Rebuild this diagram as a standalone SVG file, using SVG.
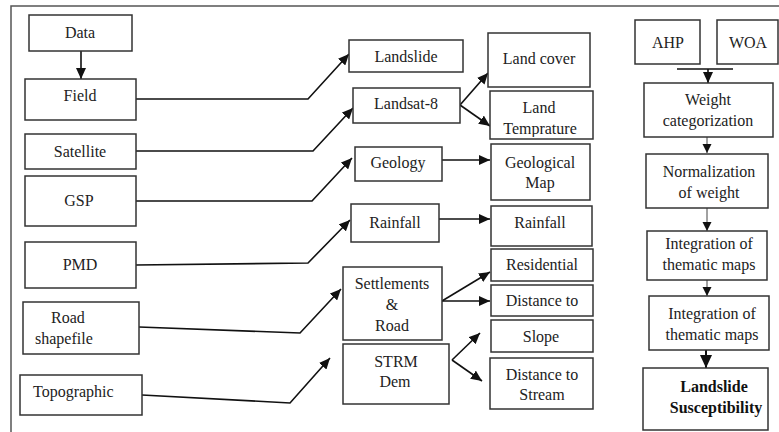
<svg xmlns="http://www.w3.org/2000/svg" width="779" height="432" viewBox="0 0 779 432" font-family="Liberation Serif, serif" font-size="16">
<style>
.box{fill:#fff;stroke:#333;stroke-width:1.5}
.t{text-anchor:middle;fill:#222}
.tl{fill:#222}
.tb{font-weight:bold;fill:#111;text-anchor:middle}
.c{fill:none;stroke:#111;stroke-width:1.6}
.ca{fill:none;stroke:#111;stroke-width:1.6;marker-end:url(#ah)}
.cs{fill:none;stroke:#444;stroke-width:1;marker-end:url(#ahs)}
</style>
<defs>
<marker id="ah" markerUnits="userSpaceOnUse" markerWidth="12" markerHeight="10" refX="11" refY="5" orient="auto">
<path d="M0,0 L11,5 L0,10 Z" fill="#111"/>
</marker>
<marker id="ahs" markerUnits="userSpaceOnUse" markerWidth="10" markerHeight="10" refX="9" refY="5" orient="auto">
<path d="M0,0.5 L9,5 L0,9.5 Z" fill="#111"/>
</marker>
<marker id="ahb" markerUnits="userSpaceOnUse" markerWidth="14" markerHeight="12" refX="13" refY="6" orient="auto">
<path d="M0,0 L13,6 L0,12 Z" fill="#111"/>
</marker>
<clipPath id="clipTemp"><rect x="490" y="91" width="104" height="46"/></clipPath>
</defs>
<rect width="779" height="432" fill="#fff"/>
<g id="frame"><path d="M11,432 V6 H779" fill="none" stroke="#555" stroke-width="1.5"/></g>

<g id="connectors">
<path class="ca" d="M81,51 V79"/>
<path class="ca" d="M136,99 H308 L349,54"/>
<path class="ca" d="M136,151 H313 L353,108"/>
<path class="ca" d="M136,201 H312 L352,158"/>
<path class="ca" d="M136,265 L308,263 L350,220"/>
<path class="ca" d="M139,327 L300,333 L341,289"/>
<path class="ca" d="M142,395 L290,403 L330,358"/>
<path class="ca" d="M460,105 L488,73"/>
<path class="ca" d="M460,105 L490,126"/>
<path class="ca" d="M442,160 H490"/>
<path class="ca" d="M439,219 H490"/>
<path class="ca" d="M442,301 L490,272"/>
<path class="ca" d="M442,301 H490"/>
<path class="ca" d="M452,360 L480,333"/>
<path class="ca" d="M452,360 L482,381"/>
<path class="c" d="M677,69 H733" stroke-width="2"/>
<path class="ca" d="M708,69 V83"/>
<path class="cs" d="M707,137 V153"/>
<path class="cs" d="M707,208 V231"/>
<path class="cs" d="M707,280 V296"/>
<path d="M706,350 V368" fill="none" stroke="#111" stroke-width="2" marker-end="url(#ahb)"/>
</g>

<g id="data"><rect class="box" x="29" y="15" width="103" height="36"/><text class="t" x="80" y="38">Data</text></g>
<g id="field"><rect class="box" x="25" y="79" width="111" height="41"/><text class="t" x="80" y="101">Field</text></g>
<g id="satellite"><rect class="box" x="25" y="134" width="111" height="35"/><text class="t" x="80" y="157">Satellite</text></g>
<g id="gsp"><rect class="box" x="25" y="176" width="111" height="50"/><text class="t" x="79" y="206">GSP</text></g>
<g id="pmd"><rect class="box" x="25" y="242" width="111" height="46"/><text class="t" x="80" y="270">PMD</text></g>
<g id="road-shapefile"><rect class="box" x="23" y="302" width="116" height="52"/><text class="tl" x="51" y="323">Road</text><text class="tl" x="35" y="344">shapefile</text></g>
<g id="topographic"><rect class="box" x="20" y="375" width="122" height="40"/><text class="tl" x="33" y="397">Topographic</text></g>

<g id="landslide"><rect class="box" x="349" y="40" width="114" height="32"/><text class="t" x="406" y="62">Landslide</text></g>
<g id="landsat8"><rect class="box" x="353" y="88" width="107" height="35"/><text class="t" x="406" y="109">Landsat-8</text></g>
<g id="geology"><rect class="box" x="355" y="147" width="87" height="34"/><text class="t" x="398" y="168">Geology</text></g>
<g id="rainfall-src"><rect class="box" x="351" y="204" width="88" height="38"/><text class="t" x="395" y="228">Rainfall</text></g>
<g id="settlements-road"><rect class="box" x="343" y="267" width="99" height="73"/><text class="t" x="392" y="289">Settlements</text><text class="t" x="392" y="310">&amp;</text><text class="t" x="392" y="331">Road</text></g>
<g id="strm-dem"><rect class="box" x="343" y="344" width="106" height="60"/><text class="t" x="396" y="367">STRM</text><text class="t" x="395" y="387">Dem</text></g>

<g id="land-cover"><rect class="box" x="488" y="33" width="102" height="54"/><text class="t" x="539" y="64">Land cover</text></g>
<g id="land-temprature"><rect class="box" x="490" y="91" width="103" height="48"/><text class="t" x="539" y="113">Land</text><text class="t" x="540" y="134" clip-path="url(#clipTemp)">Temprature</text></g>
<g id="geological-map"><rect class="box" x="491" y="144" width="99" height="56"/><text class="t" x="540" y="168">Geological</text><text class="t" x="540" y="188">Map</text></g>
<g id="rainfall-map"><rect class="box" x="491" y="206" width="101" height="40"/><text class="t" x="540" y="228">Rainfall</text></g>
<g id="residential"><rect class="box" x="491" y="249" width="102" height="32"/><text class="t" x="542" y="270">Residential</text></g>
<g id="distance-road"><rect class="box" x="491" y="285" width="102" height="31"/><text class="t" x="542" y="306">Distance to</text></g>
<g id="slope"><rect class="box" x="491" y="320" width="102" height="32"/><text class="t" x="541" y="342">Slope</text></g>
<g id="distance-stream"><rect class="box" x="490" y="358" width="103" height="51"/><text class="t" x="542" y="380">Distance to</text><text class="t" x="542" y="400">Stream</text></g>

<g id="ahp"><rect class="box" x="635" y="20" width="65" height="44"/><text class="t" x="668" y="48">AHP</text></g>
<g id="woa"><rect class="box" x="717" y="20" width="61" height="44"/><text class="t" x="748" y="48">WOA</text></g>
<g id="weight-categorization"><rect class="box" x="644" y="83" width="129" height="54"/><text class="t" x="708" y="105">Weight</text><text class="t" x="708" y="126">categorization</text></g>
<g id="normalization"><rect class="box" x="646" y="154" width="122" height="54"/><text class="t" x="709" y="177">Normalization</text><text class="t" x="709" y="198">of weight</text></g>
<g id="integration-1"><rect class="box" x="647" y="231" width="120" height="49"/><text class="t" x="709" y="249">Integration of</text><text class="t" x="709" y="270">thematic maps</text></g>
<g id="integration-2"><rect class="box" x="649" y="296" width="120" height="54"/><text class="t" x="712" y="319">Integration of</text><text class="t" x="712" y="340">thematic maps</text></g>
<g id="landslide-susceptibility"><rect class="box" x="643" y="368" width="125" height="62"/><text class="tb" x="714" y="392">Landslide</text><text class="tb" x="716" y="413">Susceptibility</text></g>
</svg>
